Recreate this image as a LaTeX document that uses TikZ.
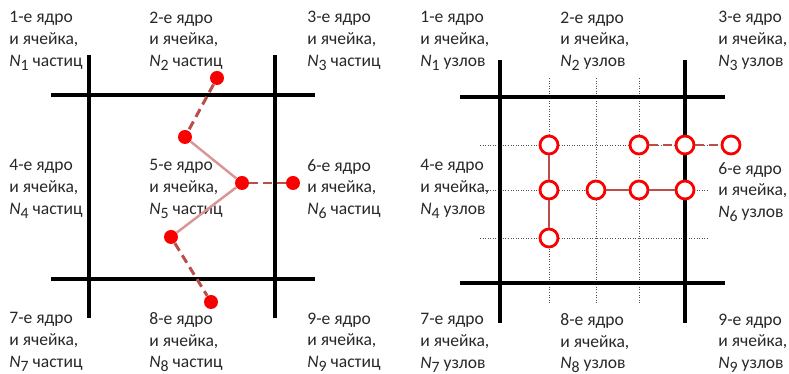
\documentclass[tikz,border=0pt]{standalone}
\usepackage{fontspec}
\setmainfont{Carlito}
\usetikzlibrary{positioning}
\definecolor{CellRed}{RGB}{250,0,0}
\definecolor{CellLink}{RGB}{185,78,75}
\definecolor{CellSoft}{RGB}{218,150,148}
\definecolor{CellGrid}{RGB}{80,80,80}
\definecolor{CellText}{RGB}{40,40,40}
\newcommand{\Nsub}[1]{\textit{N}\raisebox{-0.45ex}{\small #1}}
\tikzset{
  cell/label/.style={
    anchor=west,
    align=left,
    inner sep=0pt,
    text=CellText,
    font=\fontsize{10}{12.4}\selectfont
  },
  cell/wall/.style={line width=1.8pt, draw=black},
  cell/grid/.style={line width=0.45pt, draw=CellGrid, densely dotted},
  cell/particle/.style={circle, fill=CellRed, inner sep=0pt, minimum size=0.28cm},
  cell/knot/.style={circle, draw=CellRed, line width=1.6pt, fill=white, inner sep=0pt, minimum size=0.36cm},
  cell/dashlink/.style={line width=1.7pt, draw=CellLink, dash pattern=on 5pt off 3pt},
  cell/softlink/.style={line width=1.4pt, draw=CellSoft},
  cell/link/.style={line width=1.4pt, draw=CellLink}
}

\begin{document}
\begin{tikzpicture}[x=0.02cm,y=-0.02cm]
  \useasboundingbox (0,0) rectangle (789,374);

  % left panel: particles
  \draw[cell/wall] (89,55) -- (89,318);
  \draw[cell/wall] (275,55) -- (275,318);
  \draw[cell/wall] (51,95) -- (315,95);
  \draw[cell/wall] (51,279) -- (315,279);

  \node[cell/label] (l1) at (9,41) {1-е ядро\\и ячейка,\\\Nsub{1} частиц};
  \node[cell/label] (l2) at (149,41) {2-е ядро\\и ячейка,\\\Nsub{2} частиц};
  \node[cell/label] (l3) at (307,41) {3-е ядро\\и ячейка,\\\Nsub{3} частиц};
  \node[cell/label] (l4) at (9,189) {4-е ядро\\и ячейка,\\\Nsub{4} частиц};
  \node[cell/label] (l5) at (149,189) {5-е ядро\\и ячейка,\\\Nsub{5} частиц};
  \node[cell/label] (l6) at (307,189) {6-е ядро\\и ячейка,\\\Nsub{6} частиц};
  \node[cell/label] (l7) at (9,342) {7-е ядро\\и ячейка,\\\Nsub{7} частиц};
  \node[cell/label] (l8) at (149,342) {8-е ядро\\и ячейка,\\\Nsub{8} частиц};
  \node[cell/label] (l9) at (307,342) {9-е ядро\\и ячейка,\\\Nsub{9} частиц};

  \node[cell/particle] (p1) at (217,78) {};
  \node[cell/particle] (p2) at (185,137) {};
  \node[cell/particle] (p3) at (242,183) {};
  \node[cell/particle] (p4) at (293,183) {};
  \node[cell/particle] (p5) at (171,237) {};
  \node[cell/particle] (p6) at (211,302) {};

  \draw[cell/dashlink] (p1) -- (p2);
  \draw[cell/softlink] (p2) -- (p3);
  \draw[cell/dashlink] (p3) -- (p4);
  \draw[cell/softlink] (p3) -- (p5);
  \draw[cell/dashlink] (p5) -- (p6);

  % right panel: mesh nodes
  \foreach \gx in {549,596,639}
    \draw[cell/grid] (\gx,78) -- (\gx,303);
  \foreach \gy in {145,190,238}
    \draw[cell/grid] (480,\gy) -- (707,\gy);

  \draw[cell/wall] (500,60) -- (500,323);
  \draw[cell/wall] (685,60) -- (685,323);
  \draw[cell/wall] (460,97) -- (725,97);
  \draw[cell/wall] (460,283) -- (725,283);

  \node[cell/label] (r1) at (420,41) {1-е ядро\\и ячейка,\\\Nsub{1} узлов};
  \node[cell/label] (r2) at (560,41) {2-е ядро\\и ячейка,\\\Nsub{2} узлов};
  \node[cell/label] (r3) at (718,41) {3-е ядро\\и ячейка,\\\Nsub{3} узлов};
  \node[cell/label] (r4) at (420,189) {4-е ядро\\и ячейка,\\\Nsub{4} узлов};
  \node[cell/label] (r6) at (718,192) {6-е ядро\\и ячейка,\\\Nsub{6} узлов};
  \node[cell/label] (r7) at (420,343) {7-е ядро\\и ячейка,\\\Nsub{7} узлов};
  \node[cell/label] (r8) at (560,343) {8-е ядро\\и ячейка,\\\Nsub{8} узлов};
  \node[cell/label] (r9) at (718,343) {9-е ядро\\и ячейка,\\\Nsub{9} узлов};

  \node[cell/knot] (k1) at (549,145) {};
  \node[cell/knot] (k2) at (639,145) {};
  \node[cell/knot] (k3) at (685,145) {};
  \node[cell/knot] (k4) at (731,145) {};
  \node[cell/knot] (k5) at (549,190) {};
  \node[cell/knot] (k6) at (596,190) {};
  \node[cell/knot] (k7) at (639,190) {};
  \node[cell/knot] (k8) at (685,190) {};
  \node[cell/knot] (k9) at (549,238) {};

  \draw[cell/link] (k1) -- (k5);
  \draw[cell/link] (k5) -- (k9);
  \draw[cell/link] (k6) -- (k7);
  \draw[cell/link] (k7) -- (k8);
  \draw[cell/dashlink] (k2) -- (k3);
  \draw[cell/dashlink] (k3) -- (k4);
\end{tikzpicture}
\end{document}
